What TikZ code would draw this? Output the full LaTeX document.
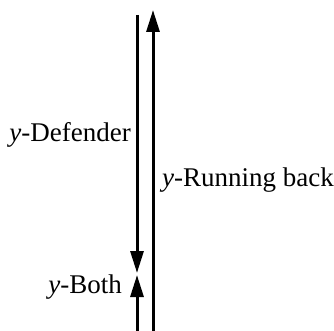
\documentclass[tikz,border=0pt]{standalone}
\usepackage{fontspec}
\setmainfont{Liberation Serif}
\usetikzlibrary{arrows.meta, positioning}

\begin{document}
\begin{tikzpicture}[
    x=1pt, y=-1pt,
    flow/.style={-{Triangle[length=22pt, width=13pt]}, line width=3pt},
    lbl/.style={font=\fontsize{27}{32}\selectfont, inner sep=0pt}
]
\useasboundingbox (0,0) rectangle (334,331);

% ends of the lines
\coordinate (deftop) at (137,15);
\coordinate (defend) at (137,273);
\coordinate (bothstart) at (137,331);
\coordinate (bothend) at (137,275);
\coordinate (runstart) at (153,331);
\coordinate (runend) at (153,10);

% arrows
\draw[flow] (deftop) -- (defend);
\draw[flow] (bothstart) -- (bothend);
\draw[flow] (runstart) -- (runend);

% labels
\node[lbl, anchor=base east] (defender) at (131,142) {\textit{y}-Defender};
\node[lbl, anchor=base west] (running) at (162,186) {\textit{y}-Running back};
\node[lbl, anchor=base east] (both) at (122,293) {\textit{y}-Both};

\end{tikzpicture}
\end{document}
